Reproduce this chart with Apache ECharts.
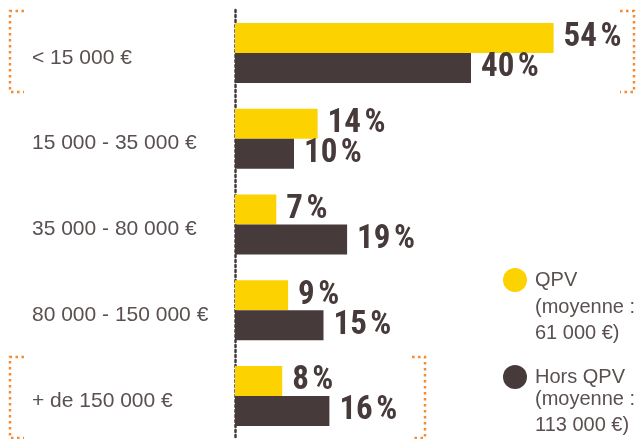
<!DOCTYPE html>
<html>
<head>
<meta charset="utf-8">
<script src="https://cdn.jsdelivr.net/npm/echarts@6/dist/echarts.min.js"></script>
<style>
html, body { margin: 0; padding: 0; background: #fff; }
#chart { width: 638px; height: 439px; }
</style>
</head>
<body>
<div id="chart"></div>
<script>
// revenue brackets, top to bottom
var categories = ["< 15 000 €", "15 000 - 35 000 €", "35 000 - 80 000 €", "80 000 - 150 000 €", "+ de 150 000 €"];
var qpv = [54, 14, 7, 9, 8];
var horsQpv = [40, 10, 19, 15, 16];
var seriesNames = ["QPV", "Hors QPV"];
var legendNotes = ["(moyenne :\n61 000 €)", "(moyenne :\n113 000 €)"];

var YELLOW = "#fcd200";
var BROWN = "#473a3a";
var GREY = "#5a5050";
var ORANGE = "#f28c2e";

function bracket(points) {
    return {
        type: "polyline",
        shape: { points: points },
        style: { stroke: ORANGE, lineWidth: 2.5, lineDash: [2.5, 3.5], fill: null }
    };
}

function note(text, top) {
    return {
        type: "text",
        left: 535,
        top: top,
        style: { text: text, fill: GREY, font: '20px "Liberation Sans"', lineHeight: 26 }
    };
}

// narrow bold for the percentages
var valueLabel = {
    show: true,
    position: "right",
    distance: 10,
    formatter: function (p) { return p.value + "\u200a%"; },
    fontFamily: '"Roboto Condensed", "Liberation Sans Narrow", Roboto',
    fontWeight: "bold",
    fontSize: 33,
    color: BROWN
};

var chart = echarts.init(document.getElementById("chart"));
chart.setOption({
    animation: false,
    grid: { left: 235, top: 10, width: 354, height: 435 },
    xAxis: { type: "value", min: 0, max: 60, show: false },
    yAxis: {
        type: "category",
        data: categories,
        inverse: true,
        axisTick: { show: false },
        axisLine: { show: true, lineStyle: { color: BROWN, width: 2.5, type: [2, 3] } },
        axisLabel: {
            margin: 203,
            align: "left",
            formatter: function (v) { return "{c|" + v + "}"; },
            rich: {
                c: { padding: [10, 0, 0, 0], fontFamily: '"Liberation Sans"', fontSize: 21, color: GREY }
            }
        }
    },
    legend: {
        orient: "vertical",
        left: 498,
        top: 263,
        icon: "circle",
        itemWidth: 24,
        itemHeight: 24,
        itemGap: 73,
        data: seriesNames,
        textStyle: { fontFamily: '"Liberation Sans"', fontSize: 20, color: GREY, lineHeight: 24, padding: [0, 0, 0, 3] }
    },
    graphic: [
        bracket([[24, 11], [10, 11], [10, 92], [24, 92]]),
        bracket([[620, 11], [634, 11], [634, 92], [620, 92]]),
        bracket([[24, 357], [10, 357], [10, 438], [24, 438]]),
        bracket([[412, 357], [425, 357], [425, 438], [412, 438]]),
        note(legendNotes[0], 294),
        note(legendNotes[1], 386)
    ],
    series: [
        { name: seriesNames[0], type: "bar", data: qpv, barWidth: 30, barGap: 0, itemStyle: { color: YELLOW }, label: valueLabel },
        { name: seriesNames[1], type: "bar", data: horsQpv, barWidth: 30, barGap: 0, itemStyle: { color: BROWN }, label: valueLabel }
    ]
});
</script>
</body>
</html>
